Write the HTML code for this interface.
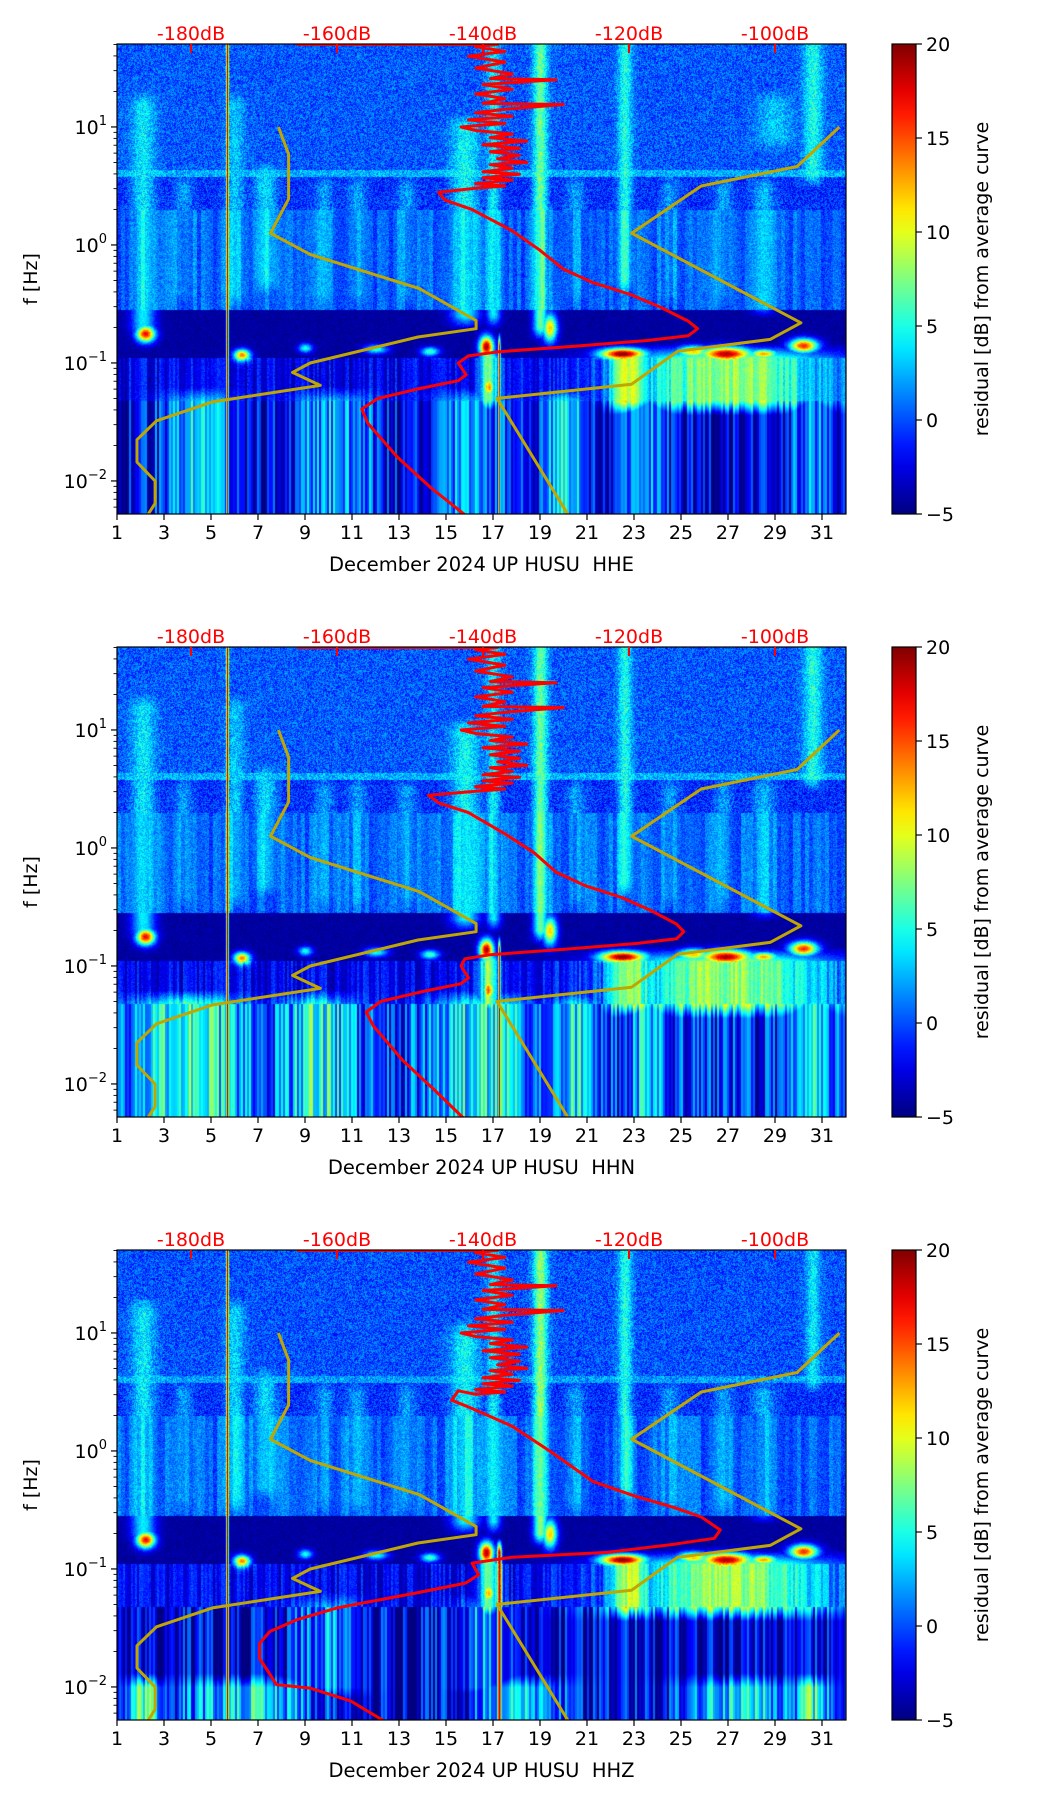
<!DOCTYPE html>
<html><head><meta charset="utf-8">
<style>
body{margin:0;background:#fff;}
#wrap{position:relative;width:1052px;height:1806px;overflow:hidden;background:#fff;}
canvas{position:absolute;}
svg{position:absolute;left:0;top:0;}
text{font-family:"DejaVu Sans","Liberation Sans",sans-serif;}
</style></head>
<body>
<div id="wrap">
<canvas id="c0" width="729" height="470" style="left:117px;top:44px"></canvas>
<canvas id="c1" width="729" height="470" style="left:117px;top:647px"></canvas>
<canvas id="c2" width="729" height="470" style="left:117px;top:1250px"></canvas>
<svg id="ov" width="1052" height="1806"></svg>
</div>
<script>
// ---------- data ----------
const dayTicks=[1,3,5,7,9,11,13,15,17,19,21,23,25,27,29,31];
const dbTicks=[-180,-160,-140,-120,-100];
const cbTicks=[-5,0,5,10,15,20];
const channels=["HHE","HHN","HHZ"];
// gold reference curves (day, log10 f)
const goldADay=[7.87,8.30,8.30,7.53,9.22,13.86,16.28,16.28,13.81,9.22,8.47,9.65,5.06,2.68,1.85,1.85,2.62,2.62,2.33];
const goldALf=[1.0,0.77,0.39,0.10,-0.08,-0.37,-0.64,-0.71,-0.78,-1.0,-1.08,-1.19,-1.33,-1.49,-1.65,-1.84,-2.0,-2.19,-2.28];
const goldBDay=[31.74,29.94,25.86,22.9,30.1,28.79,24.86,22.9,17.17,20.18];
const goldBLf=[1.0,0.665,0.50,0.10,-0.66,-0.80,-0.90,-1.18,-1.30,-2.28];
// red PSD curves (log10 f, dB)
const noiseLf=[1.70,1.70,1.68,1.64,1.60,1.55,1.50,1.45,1.41,1.40,1.36,1.32,1.28,1.24,1.20,1.19,1.15,1.12,1.09,1.06,1.03,1.00,0.97,0.94,0.91,0.88,0.85,0.82,0.79,0.76,0.73,0.70,0.68,0.65,0.62,0.60,0.57,0.55,0.52,0.50,0.48];
const noiseDb=[-165.5,-138,-141,-137,-142,-137,-141,-136,-139,-130,-140,-136,-141,-137,-140,-129,-137,-141,-136,-142,-137,-143,-141,-136,-139,-134,-140,-135,-139,-135,-138,-134,-139,-136,-140,-135,-140,-136,-141,-137,-141];
const redHHELf=[0.447,0.38,0.30,0.12,-0.04,-0.205,-0.32,-0.42,-0.53,-0.645,-0.71,-0.77,-0.81,-0.86,-0.905,-0.94,-1.0,-1.10,-1.15,-1.22,-1.30,-1.39,-1.51,-1.80,-2.06,-2.30];
const redHHEDb=[-146.1,-145.2,-141.5,-136.0,-132.3,-129.0,-124.9,-119.8,-115.6,-111.9,-110.6,-111.9,-117.5,-127.7,-137.8,-142.0,-143.4,-142.3,-143.4,-148.9,-154.4,-156.6,-155.8,-151.7,-147.1,-142.2];
const redHHNLf=[0.447,0.38,0.30,0.12,-0.04,-0.205,-0.32,-0.42,-0.53,-0.645,-0.71,-0.77,-0.81,-0.86,-0.905,-0.94,-1.0,-1.10,-1.15,-1.22,-1.30,-1.39,-1.51,-1.80,-2.06,-2.30];
const redHHNDb=[-147.5,-146.0,-142.0,-137.0,-133.0,-130.0,-126.0,-121.0,-117.0,-113.5,-112.5,-113.5,-119.0,-129.0,-139.0,-142.5,-143.0,-142.0,-143.0,-148.5,-154.0,-156.0,-155.0,-151.0,-146.5,-142.5];
const redHHZLf=[0.51,0.43,0.36,0.21,-0.02,-0.26,-0.38,-0.48,-0.56,-0.67,-0.74,-0.79,-0.86,-0.90,-0.95,-1.05,-1.12,-1.20,-1.33,-1.43,-1.53,-1.63,-1.76,-1.89,-1.98,-2.01,-2.12,-2.29];
const redHHZDb=[-143.4,-144.3,-141.5,-136.0,-130.4,-124.9,-119.3,-113.8,-110.1,-107.5,-108.3,-113.8,-123.0,-136.0,-141.5,-140.6,-142.4,-148.9,-160.0,-165.5,-169.2,-170.6,-170.6,-169.2,-168.3,-163.7,-158.1,-153.5];
// heatmap: frequency bands (upper log10 f edge, residual dB)
const bandTop=[1.70,0.64,0.58,0.30,-0.55,-0.95,-1.32];
const bandValHHE=[0.3,2.5,-0.8,0.5,-4.2,-2.2,-3.0];
const bandValHHN=[0.3,2.5,-0.8,0.5,-4.2,-2.2,-1.2];
const bandValHHZ=[0.1,2.0,-0.8,0.5,-4.2,-2.2,-2.8];
// streaks: [day, width(days), lfLow, lfHigh, value]
const streaksHHE=[[2.1,0.5,-0.7,1.2,4],[6.0,0.4,-0.4,1.2,3],[7.3,0.5,-0.3,0.6,3.5],[3.8,0.4,-0.4,0.5,2],[9.8,0.4,-0.4,0.5,2],[11.2,0.4,-0.4,0.5,2],[13.3,0.4,-0.4,0.5,2],[15.8,0.6,-0.6,1.0,4.5],[17.0,0.3,-0.6,1.7,4],[19.0,0.3,-0.7,1.7,7],[20.5,0.4,-0.4,0.5,2],[22.6,0.3,-0.3,1.7,5],[24.5,0.4,-0.4,0.5,2],[26.8,0.4,-0.4,0.5,2],[28.5,0.5,-0.5,0.5,2.5],[30.6,0.4,0.6,1.7,5],[29.0,0.8,0.9,1.2,3],[5.68,0.05,-2.3,1.7,20],[17.25,0.05,-2.3,-0.85,18],[27,4.5,-1.32,-0.95,8],[22.8,1.0,-1.32,-0.95,9],[16.8,0.4,-1.32,-0.95,8],[4.5,1.6,-2.3,-1.32,3],[10.2,1.8,-2.3,-1.32,3],[16.0,1.4,-2.3,-1.32,3],[20.0,1.0,-2.3,-1.32,4],[23.5,0.8,-2.3,-1.32,2.5],[30.5,0.7,-2.3,-1.32,3]];
const streaksHHN=[[2.1,0.5,-0.7,1.2,4],[6.0,0.4,-0.4,1.2,3],[7.3,0.5,-0.3,0.6,3.5],[3.8,0.4,-0.4,0.5,2],[9.8,0.4,-0.4,0.5,2],[11.2,0.4,-0.4,0.5,2],[13.3,0.4,-0.4,0.5,2],[15.8,0.6,-0.6,1.0,4.5],[17.0,0.3,-0.6,1.7,4],[19.0,0.3,-0.7,1.7,7],[20.5,0.4,-0.4,0.5,2],[22.6,0.3,-0.3,1.7,5],[24.5,0.4,-0.4,0.5,2],[26.8,0.4,-0.4,0.5,2],[28.5,0.5,-0.5,0.5,2.5],[30.6,0.4,0.6,1.7,5],[5.68,0.05,-2.3,1.7,20],[17.25,0.05,-2.3,-0.85,18],[27,4.5,-1.32,-0.95,8],[22.8,1.0,-1.32,-0.95,9],[16.8,0.4,-1.32,-0.95,8],[4.0,2.5,-2.3,-1.32,6],[9.5,1.5,-2.3,-1.32,5],[16.5,2.2,-2.3,-1.32,5],[20.5,1.0,-2.3,-1.32,4],[23.5,0.8,-2.3,-1.32,3],[30.5,0.8,-2.3,-1.32,4]];
const streaksHHZ=[[2.1,0.5,-0.7,1.2,4],[6.0,0.4,-0.4,1.2,3.5],[7.3,0.5,-0.3,0.6,3.5],[3.8,0.4,-0.4,0.5,2],[9.8,0.4,-0.4,0.5,2],[11.2,0.4,-0.4,0.5,2],[13.3,0.4,-0.4,0.5,2],[15.8,0.6,-0.6,1.0,4.5],[17.0,0.3,-0.6,1.7,4],[19.0,0.3,-0.7,1.7,8],[20.5,0.4,-0.4,0.5,2],[22.6,0.3,-0.3,1.7,5],[24.5,0.4,-0.4,0.5,2],[26.8,0.4,-0.4,0.5,2],[28.5,0.5,-0.5,0.5,2.5],[30.6,0.3,0.6,1.7,4],[5.68,0.05,-2.3,1.7,20],[17.25,0.1,-2.3,-0.85,19],[27,4.5,-1.32,-0.95,8],[22.8,1.0,-1.32,-0.95,9],[16.8,0.4,-1.32,-0.95,8],[2.2,0.8,-2.3,-2.0,7],[6.5,3.0,-2.3,-2.0,4],[18.0,2.0,-2.3,-2.0,4],[27.5,2.5,-2.3,-2.0,4],[30.5,0.8,-2.3,-2.0,6],[10.0,1.5,-2.0,-1.32,2],[16.5,1.2,-2.0,-1.32,2]];
// blobs: [day, lf, dayRadius, lfRadius, value]
const blobsHHE=[[2.2,-0.75,0.4,0.07,17],[6.3,-0.93,0.35,0.05,14],[16.7,-0.86,0.3,0.09,19],[19.4,-0.70,0.3,0.12,12],[22.5,-0.92,1.0,0.05,20],[26.9,-0.92,1.1,0.06,19],[30.2,-0.85,0.6,0.06,16],[25.5,-0.90,0.7,0.05,12],[28.5,-0.92,0.6,0.04,13],[16.8,-1.20,0.25,0.08,14],[9.0,-0.87,0.3,0.04,5],[12.0,-0.88,0.5,0.04,5],[14.3,-0.90,0.4,0.04,6]];
const blobsHHN=[[2.2,-0.75,0.4,0.07,17],[6.3,-0.93,0.35,0.05,14],[16.7,-0.86,0.3,0.09,19],[19.4,-0.70,0.3,0.12,12],[22.5,-0.92,1.0,0.05,20],[26.9,-0.92,1.1,0.06,19],[30.2,-0.85,0.6,0.06,16],[25.5,-0.90,0.7,0.05,12],[28.5,-0.92,0.6,0.04,13],[16.8,-1.20,0.25,0.08,14],[9.0,-0.87,0.3,0.04,5],[12.0,-0.88,0.5,0.04,5],[14.3,-0.90,0.4,0.04,6]];
const blobsHHZ=[[2.2,-0.75,0.4,0.07,17],[6.3,-0.93,0.35,0.05,14],[16.7,-0.86,0.3,0.09,19],[19.4,-0.70,0.3,0.12,12],[22.5,-0.92,1.0,0.05,20],[26.9,-0.92,1.1,0.06,19],[30.2,-0.85,0.6,0.06,16],[25.5,-0.90,0.7,0.05,12],[28.5,-0.92,0.6,0.04,13],[16.8,-1.20,0.25,0.08,14],[9.0,-0.87,0.3,0.04,5],[12.0,-0.88,0.5,0.04,5],[14.3,-0.90,0.4,0.04,6]];

const panels=[
 {top:44,ch:"HHE",band:bandValHHE,streaks:streaksHHE,blobs:blobsHHE,rLf:redHHELf,rDb:redHHEDb},
 {top:647,ch:"HHN",band:bandValHHN,streaks:streaksHHN,blobs:blobsHHN,rLf:redHHNLf,rDb:redHHNDb},
 {top:1250,ch:"HHZ",band:bandValHHZ,streaks:streaksHHZ,blobs:blobsHHZ,rLf:redHHZLf,rDb:redHHZDb}
];
// ---------- scales ----------
const L=117,R=846,H=470,LFTOP=1.703,PXDEC=118;
const xDay=d=>L+(d-1)*23.5;
const yLf=(top,lf)=>top+(LFTOP-lf)*PXDEC;
const xDb=db=>191+(db+180)*7.3;
function jet(t){t=Math.max(0,Math.min(1,t));const c=v=>Math.round(255*Math.max(0,Math.min(1,v)));
 return [c(1.5-Math.abs(4*t-3)),c(1.5-Math.abs(4*t-2)),c(1.5-Math.abs(4*t-1))];}
function hash(i,j){let h=(i*374761393+j*668265263)|0;h=(h^(h>>>13))*1274126177|0;return ((h^(h>>>16))>>>0)/4294967296;}
// ---------- heatmaps ----------
panels.forEach((p,pi)=>{
 const cv=document.getElementById('c'+pi),ctx=cv.getContext('2d');
 const img=ctx.createImageData(729,470);
 const SOFT=0.12;
 for(let y=0;y<470;y++){
  const lf=LFTOP-y/PXDEC;
  let base=p.band[0];
  for(let k=0;k<bandTop.length;k++){if(lf<=bandTop[k])base=p.band[k];}
  for(let x=0;x<729;x++){
   const d=1+x/23.5;let v=base;
   for(const s of p.streaks){
     if(lf<s[2]-SOFT||lf>s[3]+SOFT)continue;
     const e=Math.exp(-Math.pow((d-s[0])/s[1],2));
     const fe=lf<s[2]?1-(s[2]-lf)/SOFT:(lf>s[3]?1-(lf-s[3])/SOFT:1);
     v=Math.max(v,base+(s[4]-base)*e*fe);
   }
   for(const b of p.blobs){
     const q=Math.pow((d-b[0])/b[2],2)+Math.pow((lf-b[1])/b[3],2);
     if(q<6)v=Math.max(v,base+(b[4]-base)*Math.exp(-q));
   }
   let n;
   if(lf>0.3) n=(hash(x,y+pi*999)-0.5)*4.5;
   else if(lf<-1.32) n=(hash(x>>1,pi*777)-0.5)*8;
   else if(lf<-0.95) n=(hash(x>>1,pi*555)-0.5)*4+(hash(x,y)-0.5)*2;
   else if(lf>-0.55) n=(hash(x>>2,pi*333)-0.5)*2.5+(hash(x,y+pi*99)-0.5)*3;
   else n=(hash(x,y+pi*999)-0.5)*1.5;
   v+=n;
   const c=jet((v+5)/25),o=(y*729+x)*4;
   img.data[o]=c[0];img.data[o+1]=c[1];img.data[o+2]=c[2];img.data[o+3]=255;
  }
 }
 ctx.putImageData(img,0,0);
});
// ---------- overlay ----------
const NS="http://www.w3.org/2000/svg",svg=document.getElementById('ov');
function mk(tag,attrs,parent){const e=document.createElementNS(NS,tag);for(const k in attrs)e.setAttribute(k,attrs[k]);(parent||svg).appendChild(e);return e;}
const defs=mk('defs',{});
const grad=mk('linearGradient',{id:'jetg',x1:0,y1:1,x2:0,y2:0},defs);
for(let i=0;i<=20;i++){const c=jet(i/20);mk('stop',{offset:(i/20),'stop-color':`rgb(${c})`},grad);}
panels.forEach((p,pi)=>{
 const T=p.top,B=T+H;
 const g=mk('g',{});
 
 
 const cp=mk('clipPath',{id:'clip'+pi},defs);mk('rect',{x:L,y:T,width:R-L,height:H},cp);
 const lines=mk('g',{'clip-path':`url(#clip${pi})`},g);
 const line=(xs,ys,col,w,name)=>{const pts=xs.map((x,i)=>x.toFixed(1)+','+ys[i].toFixed(1)).join(' ');
  const pl=mk('polyline',{points:pts,fill:'none',stroke:col,'stroke-width':w,'stroke-linejoin':'round'},lines);
  
  };
 line(goldADay.map(xDay),goldALf.map(l=>yLf(T,l)),'#c0a600',3,'reference-curve-low');
 line(goldBDay.map(xDay),goldBLf.map(l=>yLf(T,l)),'#c0a600',3,'reference-curve-high');
 const rl=noiseLf.concat(p.rLf),rd=noiseDb.concat(p.rDb);
 line(rd.map(xDb),rl.map(l=>yLf(T,l)),'#ff0000',3,'mean-psd-curve');
 const fr=mk('rect',{x:L,y:T,width:R-L,height:H,fill:'none',stroke:'#000','stroke-width':1.2},g);
 
 
 dbTicks.forEach(db=>{const x=xDb(db);
  mk('line',{x1:x,y1:T,x2:x,y2:T+9,stroke:'#ff0000','stroke-width':2},g);
  const t=mk('text',{x:x,y:T-4,'text-anchor':'middle','font-size':19,fill:'#ff0000'},g);t.textContent=db+'dB';
  
  });
 dayTicks.forEach(d=>{const x=xDay(d);
  mk('line',{x1:x,y1:B,x2:x,y2:B+6,stroke:'#000','stroke-width':1.2},g);
  const t=mk('text',{x:x,y:B+25,'text-anchor':'middle','font-size':19},g);t.textContent=d;
  
  });
 const xl=mk('text',{x:(L+R)/2,y:B+57,'text-anchor':'middle','font-size':19.5},g);
 xl.textContent='December 2024 UP HUSU\u00a0\u00a0'+p.ch;
 
 
 for(let e=-3;e<=1;e++){
  for(let m=1;m<10;m++){const lf=e+Math.log10(m);if(lf>LFTOP||lf<LFTOP-H/PXDEC)continue;const y=yLf(T,lf);
   mk('line',{x1:L,y1:y,x2:L-(m==1?6:3.5),y2:y,stroke:'#000','stroke-width':m==1?1.2:0.9},g);
   if(m==1){const t=mk('text',{x:L-10,y:y+7,'text-anchor':'end','font-size':19},g);
    
    
    const a=mk('tspan',{},t);a.textContent='10';const s=mk('tspan',{dy:-9,'font-size':13},t);s.textContent=(e<0?'\u2212':'')+Math.abs(e);}
  }
 }
 const yl=mk('text',{x:0,y:0,'text-anchor':'middle','font-size':19,transform:`translate(37,${T+H/2}) rotate(-90)`},g);
 yl.textContent='f [Hz]';
 
 
 const cb=mk('rect',{x:892,y:T,width:24,height:H,fill:'url(#jetg)',stroke:'#000','stroke-width':1.2},g);
 
 
 cbTicks.forEach(v=>{const y=B-(v+5)/25*H;
  mk('line',{x1:916,y1:y,x2:922,y2:y,stroke:'#000','stroke-width':1.2},g);
  const t=mk('text',{x:926,y:y+7,'font-size':19},g);t.textContent=v<0?'\u2212'+(-v):v;
  
  });
 const cl=mk('text',{x:0,y:0,'text-anchor':'middle','font-size':19,transform:`translate(988,${T+H/2}) rotate(-90)`},g);
 cl.textContent='residual [dB] from average curve';
 
 
});
</script>
</body></html>
